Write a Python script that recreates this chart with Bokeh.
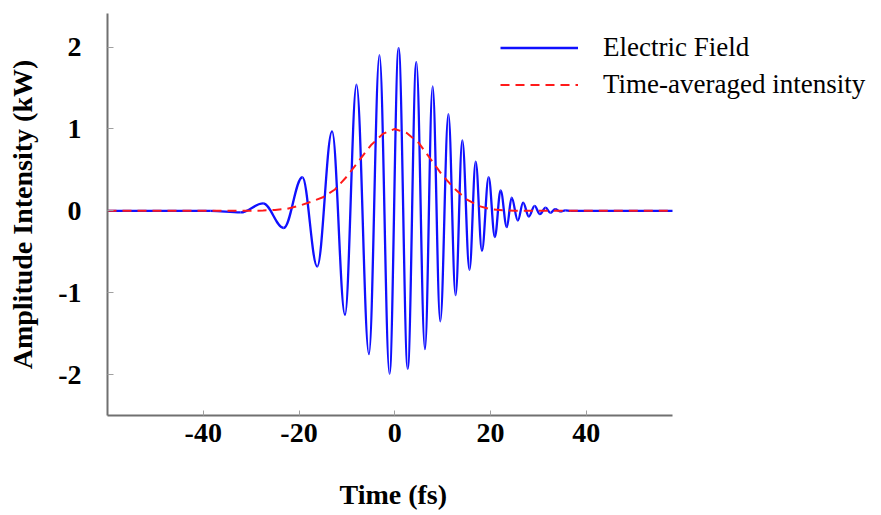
from bokeh.plotting import figure
from bokeh.models import (ColumnDataSource, Range1d, FixedTicker, Legend, LegendItem,
                          PrintfTickFormatter, Title)
from bokeh.embed import file_html
from bokeh.resources import INLINE

# Electric field: extrema (time in fs, amplitude)
field_t = [-60.0, -38.5, -32.2, -27.5, -23.2, -19.3, -16.2, -13.1, -10.4, -8.0, -5.4, -3.2,
           -1.1, 0.8, 2.7, 4.5, 6.3, 7.9, 9.5, 11.2, 12.7, 14.1, 15.6, 16.9, 18.2, 19.6,
           20.9, 22.1, 23.4, 24.4, 25.7, 26.8, 28.0, 29.2, 30.3, 31.5, 32.5, 33.5, 34.6,
           35.6, 36.7, 58.0]
field_v = [0.0, 0.0, -0.02, 0.09, -0.21, 0.41, -0.68, 0.97, -1.27, 1.54, -1.75, 1.90,
           -1.99, 1.99, -1.93, 1.82, -1.69, 1.52, -1.35, 1.18, -1.03, 0.86, -0.72, 0.60,
           -0.49, 0.41, -0.32, 0.25, -0.20, 0.16, -0.12, 0.10, -0.07, 0.06, -0.04, 0.04,
           -0.025, 0.02, -0.01, 0.005, 0.0, 0.0]

# Time-averaged intensity (envelope)
env_t = [-60.0, -30.0, -27.5, -25.0, -22.5, -20.0, -17.5, -15.0, -12.5, -10.0, -7.5, -5.0,
         -2.5, 0.0, 2.5, 5.0, 7.5, 10.0, 12.5, 15.0, 17.5, 20.0, 22.5, 25.0, 30.0, 58.0]
env_v = [0.0, 0.0, 0.004, 0.01, 0.025, 0.06, 0.11, 0.165, 0.26, 0.42, 0.61, 0.80,
         0.94, 1.0, 0.95, 0.83, 0.63, 0.43, 0.27, 0.14, 0.06, 0.02, 0.006, 0.0, 0.0, 0.0]

x_ticks = [-40, -20, 0, 20, 40]
y_ticks = [-2, -1, 0, 1, 2]
x_start, x_end = -60.0, 58.0

# Smooth half-cycles between consecutive extrema (cubic Bezier, horizontal tangents)
K = 0.364
x0, y0, x1, y1, cx0, cy0, cx1, cy1 = [], [], [], [], [], [], [], []
for i in range(len(field_t) - 1):
    ta, tb = field_t[i], field_t[i + 1]
    va, vb = field_v[i], field_v[i + 1]
    dt = tb - ta
    x0.append(ta); y0.append(va); x1.append(tb); y1.append(vb)
    cx0.append(ta + K * dt); cy0.append(va)
    cx1.append(tb - K * dt); cy1.append(vb)
field_src = ColumnDataSource(dict(x0=x0, y0=y0, x1=x1, y1=y1,
                                  cx0=cx0, cy0=cy0, cx1=cx1, cy1=cy1))
env_src = ColumnDataSource(dict(t=env_t, v=env_v))

# frame spans 107..880 px; data axis spans 107..672 px  (4.788 px per fs)
px_per_fs = (672 - 107) / (x_end - x_start)
range_end = x_start + (880 - 107) / px_per_fs

p = figure(width=881, height=515, output_backend="svg", toolbar_location=None,
           x_range=Range1d(x_start, range_end), y_range=Range1d(-2.5, 2.41),
           min_border_left=107, min_border_right=1, min_border_top=13,
           min_border_bottom=100)
p.outline_line_color = None
p.xgrid.visible = False
p.ygrid.visible = False
p.background_fill_color = "white"
p.border_fill_color = "white"

blue = p.bezier(x0="x0", y0="y0", x1="x1", y1="y1", cx0="cx0", cy0="cy0",
                cx1="cx1", cy1="cy1", source=field_src, line_color="#1010ff",
                line_width=2.3)
red = p.line(x="t", y="v", source=env_src, line_color="#ff1a1a", line_width=2,
             line_dash="9 6")

serif = "Liberation Serif"
for ax in (p.xaxis[0], p.yaxis[0]):
    ax.axis_line_color = "#707070"
    ax.axis_line_width = 2
    ax.major_tick_line_color = "#a0a0a0"
    ax.major_tick_line_width = 1
    ax.major_tick_out = 0
    ax.minor_tick_line_color = None
    ax.major_label_text_font = serif
    ax.major_label_text_font_style = "bold"
    ax.major_label_text_font_size = "28px"
    ax.major_label_text_color = "black"
    ax.axis_label_text_font = serif
    ax.axis_label_text_font_style = "bold"
    ax.axis_label_text_font_size = "28px"
    ax.axis_label_text_color = "black"
    ax.formatter = PrintfTickFormatter(format="%d")

p.xaxis[0].bounds = (x_start, x_end)
p.xaxis[0].ticker = FixedTicker(ticks=x_ticks)
p.yaxis[0].ticker = FixedTicker(ticks=y_ticks)
p.xaxis[0].major_tick_in = 5
p.yaxis[0].major_tick_in = 6
p.xaxis[0].major_label_standoff = 8
p.yaxis[0].major_label_standoff = 26
p.yaxis[0].axis_label = "Amplitude Intensity (kW)"
p.yaxis[0].axis_label_standoff = 17

# x-axis title, centred under the data part of the axis (empty first line = gap)
xt = Title(text="\nTime (fs)", align="left", offset=232, standoff=0,
           vertical_align="bottom", text_line_height=1.05,
           text_font=serif, text_font_style="bold", text_font_size="28px",
           text_color="black")
p.add_layout(xt, "below")

legend = Legend(items=[LegendItem(label="Electric Field", renderers=[blue]),
                       LegendItem(label="Time-averaged intensity", renderers=[red])],
                location=(393, 314), orientation="vertical")
legend.border_line_color = None
legend.background_fill_alpha = 0
legend.padding = 0
legend.margin = 0
legend.spacing = 4
legend.glyph_width = 78
legend.glyph_height = 33
legend.label_height = 33
legend.label_standoff = 25
legend.label_text_font = serif
legend.label_text_font_size = "27px"
legend.label_text_color = "black"
p.add_layout(legend)

open("out.html", "w").write(file_html(p, INLINE))
